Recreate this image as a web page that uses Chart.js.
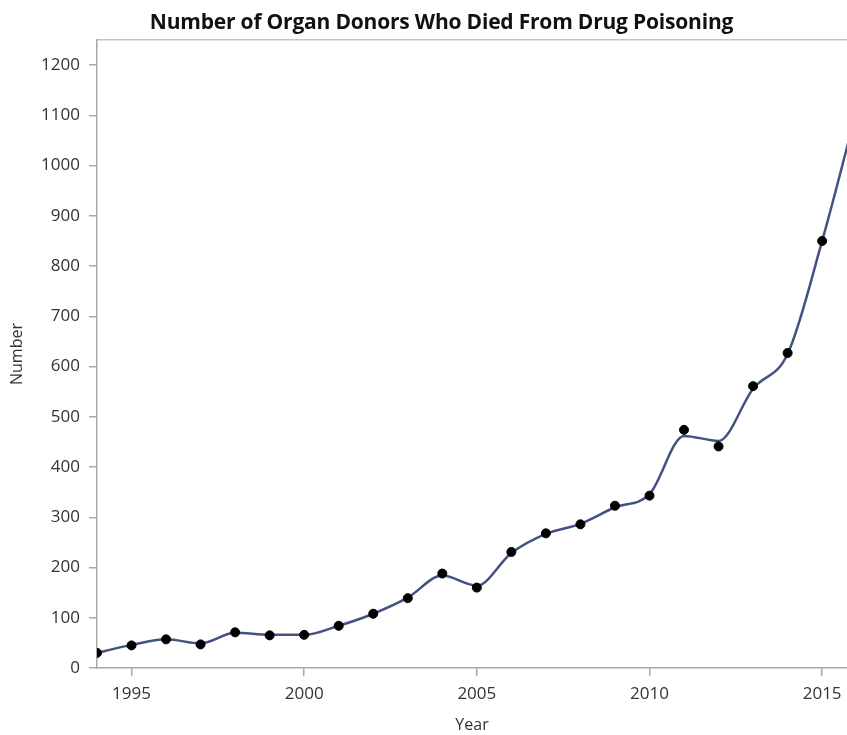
<!DOCTYPE html>
<html lang="en">
<head>
    <meta charset="UTF-8">
    <title>Number of Organ Donors Who Died From Drug Poisoning</title>
    <script src="https://cdn.jsdelivr.net/npm/chart.js"></script>
    <style>
        body { margin: 0; background: #fff; }
        #wrap { position: relative; width: 847px; height: 735px; }
        #title {
            position: absolute; top: 7px; left: 0; width: 847px;
            box-sizing: border-box; padding-left: 36px; text-align: center;
            font: 700 21px "Open Sans", sans-serif; color: #111; letter-spacing: -0.2px;
        }
    </style>
</head>
<body>
    <div id="wrap">
        <div id="title">Number of Organ Donors Who Died From Drug Poisoning</div>
        <canvas id="donorChart" width="847" height="735"></canvas>
    </div>
    <script>
        // observed counts per year
        const years = [1994, 1995, 1996, 1997, 1998, 1999, 2000, 2001, 2002, 2003, 2004,
                       2005, 2006, 2007, 2008, 2009, 2010, 2011, 2012, 2013, 2014, 2015];
        const donors = [30, 45, 57, 47, 71, 65, 66, 84, 108, 139, 188,
                        160, 231, 268, 286, 323, 343, 474, 441, 561, 627, 850];

        // smoothed curve (runs past the right edge)
        const fitYears = [1994, 1995, 1996, 1997, 1998, 1999, 2000, 2001, 2002, 2003, 2004,
                          2005, 2006, 2007, 2008, 2009, 2010, 2011, 2012, 2013, 2014, 2015, 2016];
        const fitValues = [30, 46, 57, 49, 70, 66, 66, 84, 108, 140, 184,
                           164, 229, 267, 287, 320, 346, 462, 452, 556, 625, 850, 1110];

        const xTicks = [1995, 2000, 2005, 2010, 2015];
        const yTicks = [0, 100, 200, 300, 400, 500, 600, 700, 800, 900, 1000, 1100, 1200];

        const axisGray = '#a8a8a8';
        const tickFont = { family: 'Open Sans', size: 17 };

        new Chart(document.getElementById('donorChart'), {
            type: 'scatter',
            data: {
                datasets: [{
                    type: 'line',
                    data: fitYears.map((y, i) => ({ x: y, y: fitValues[i] })),
                    borderColor: '#425381',
                    borderWidth: 2.5,
                    pointRadius: 0,
                    cubicInterpolationMode: 'monotone',
                    fill: false,
                    order: 2
                }, {
                    data: years.map((y, i) => ({ x: y, y: donors[i] })),
                    backgroundColor: '#000',
                    borderColor: '#000',
                    pointRadius: 4.5,
                    clip: 0,
                    order: 1
                }]
            },
            options: {
                responsive: false,
                animation: false,
                layout: { autoPadding: false, padding: { top: 40, left: 0, right: 0, bottom: 0 } },
                plugins: { legend: { display: false }, tooltip: { enabled: false } },
                scales: {
                    x: {
                        type: 'linear',
                        min: 1994,
                        max: 2015.72,
                        afterBuildTicks: s => { s.ticks = xTicks.map(v => ({ value: v })); },
                        afterFit: s => { s.height = 67; s.paddingLeft = 0; s.paddingRight = 0; },
                        grid: { drawOnChartArea: false, color: axisGray, tickLength: 8, lineWidth: 1.5 },
                        border: { color: axisGray, width: 1.5 },
                        ticks: { color: '#333', font: tickFont, padding: 8, callback: v => String(v) },
                        title: { display: true, text: 'Year', color: '#333', font: { family: 'Open Sans', size: 16 }, padding: 0 }
                    },
                    xTop: {
                        type: 'linear',
                        position: 'top',
                        min: 1994,
                        max: 2015.72,
                        afterFit: s => { s.height = 0; s.paddingLeft = 0; s.paddingRight = 0; },
                        grid: { display: false },
                        border: { color: '#c4c4c4', width: 1.5 },
                        ticks: { display: false }
                    },
                    y: {
                        min: 0,
                        max: 1250,
                        afterBuildTicks: s => { s.ticks = yTicks.map(v => ({ value: v })); },
                        afterFit: s => { s.width = 97; s.paddingTop = 0; s.paddingBottom = 0; },
                        grid: { drawOnChartArea: false, color: axisGray, tickLength: 8, lineWidth: 1.5 },
                        border: { color: axisGray, width: 1.5 },
                        ticks: { color: '#333', font: tickFont, padding: 9, callback: v => String(v) },
                        title: { display: true, text: 'Number', color: '#333', font: { family: 'Open Sans', size: 16 }, padding: { top: 8, bottom: 0 } }
                    }
                }
            }
        });
    </script>
</body>
</html>
